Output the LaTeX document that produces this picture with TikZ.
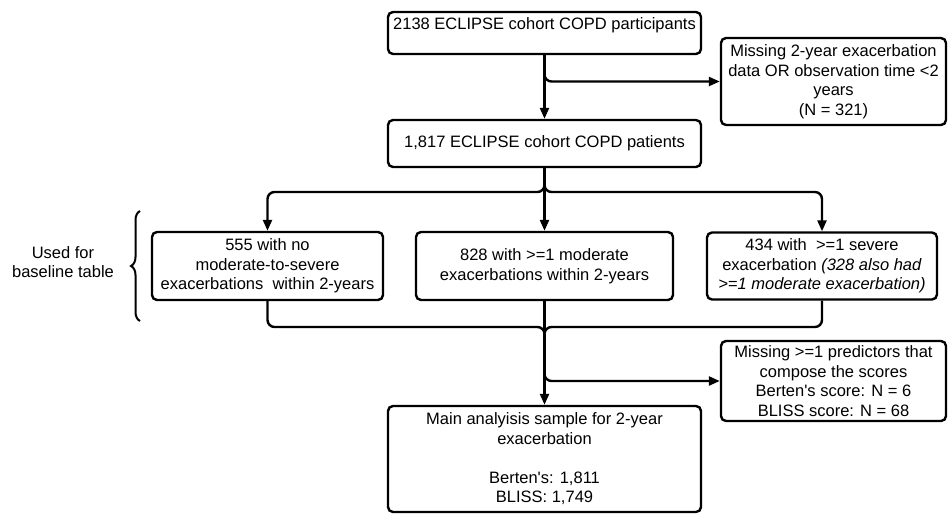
\documentclass[tikz,border=0pt]{standalone}
\usepackage{fontspec}
\setmainfont{Liberation Sans}
\usetikzlibrary{arrows.meta,decorations.pathreplacing}
\tikzset{
  box/.style={draw, line width=2.4pt, rounded corners=5pt, align=center, inner sep=0pt,
    font=\fontsize{16.5}{19.5}\selectfont},
  arr/.style={line width=2.4pt, rounded corners=7pt, -{Triangle[length=11pt,width=9pt]}},
  link/.style={line width=2.4pt, rounded corners=7pt}
}
\begin{document}
\begin{tikzpicture}[x=1pt,y=-1pt]
        \useasboundingbox (0,0) rectangle (948,514);

        % Whole cohort and first exclusion
        \node[box, minimum width=313pt, minimum height=42pt] (start) at (544.5,33) {2138 ECLIPSE cohort COPD participants\\~};
        \node[box, minimum width=225pt, minimum height=87pt] (excl1) at (833.5,81.5) {Missing 2-year exacerbation\\data OR observation time <2\\years\\(N = 321)};
        \node[box, minimum width=313pt, minimum height=47pt] (cohort) at (544.5,143.5) {1,817 ECLIPSE cohort COPD patients};

        % Three exacerbation groups
        \node[box, minimum width=231pt, minimum height=68pt] (noexac) at (267.5,266) {555 with no\\moderate-to-severe\\exacerbations~~within 2-years};
        \node[box, minimum width=257pt, minimum height=68pt] (moder) at (544.5,266) {828 with >=1 moderate\\exacerbations within 2-years};
        \node[box, minimum width=230pt, minimum height=67pt] (severe) at (822,266) {434 with~~>=1 severe\\exacerbation \textit{(328 also had}\\\textit{>=1 moderate exacerbation)}};

        % Brace with its label
        \draw[decorate, decoration={brace, amplitude=9pt}, line width=2pt] (140,321) -- (140,211);
        \node[align=center, font=\fontsize{16.5}{19.5}\selectfont] (usedfor) at (63,262) {Used for\\baseline table};

        % Second exclusion and final sample
        \node[box, minimum width=225pt, minimum height=80pt] (excl2) at (833.5,381) {Missing >=1 predictors that\\compose the scores\\Berten\textquotesingle s score: N = 6\\BLISS score: N = 68};
        \node[box, minimum width=313pt, minimum height=106pt] (sample) at (544.5,459) {Main analyisis sample for 2-year\\exacerbation\\~\\Berten\textquotesingle s: 1,811\\BLISS: 1,749};

        % Connectors
        \coordinate (split) at (544.5,192);
        \coordinate (merge) at (544.5,327);
        \coordinate (mergeend) at (544.5,350);
        \draw[arr] (start) -- (cohort);
        \draw[arr] (start.south) |- (excl1.west);
        \draw[arr] (cohort.south) -- (split) -| (noexac.north);
        \draw[arr] (cohort.south) -- (split) -| (severe.north);
        \draw[arr] (cohort) -- (moder);
        \draw[link] (noexac.south) |- (merge) -- (mergeend);
        \draw[link] (severe.south) |- (merge) -- (mergeend);
        \draw[arr] (moder) -- (sample);
        \draw[arr] (moder.south) |- (excl2.west);
    \end{tikzpicture}
\end{document}
